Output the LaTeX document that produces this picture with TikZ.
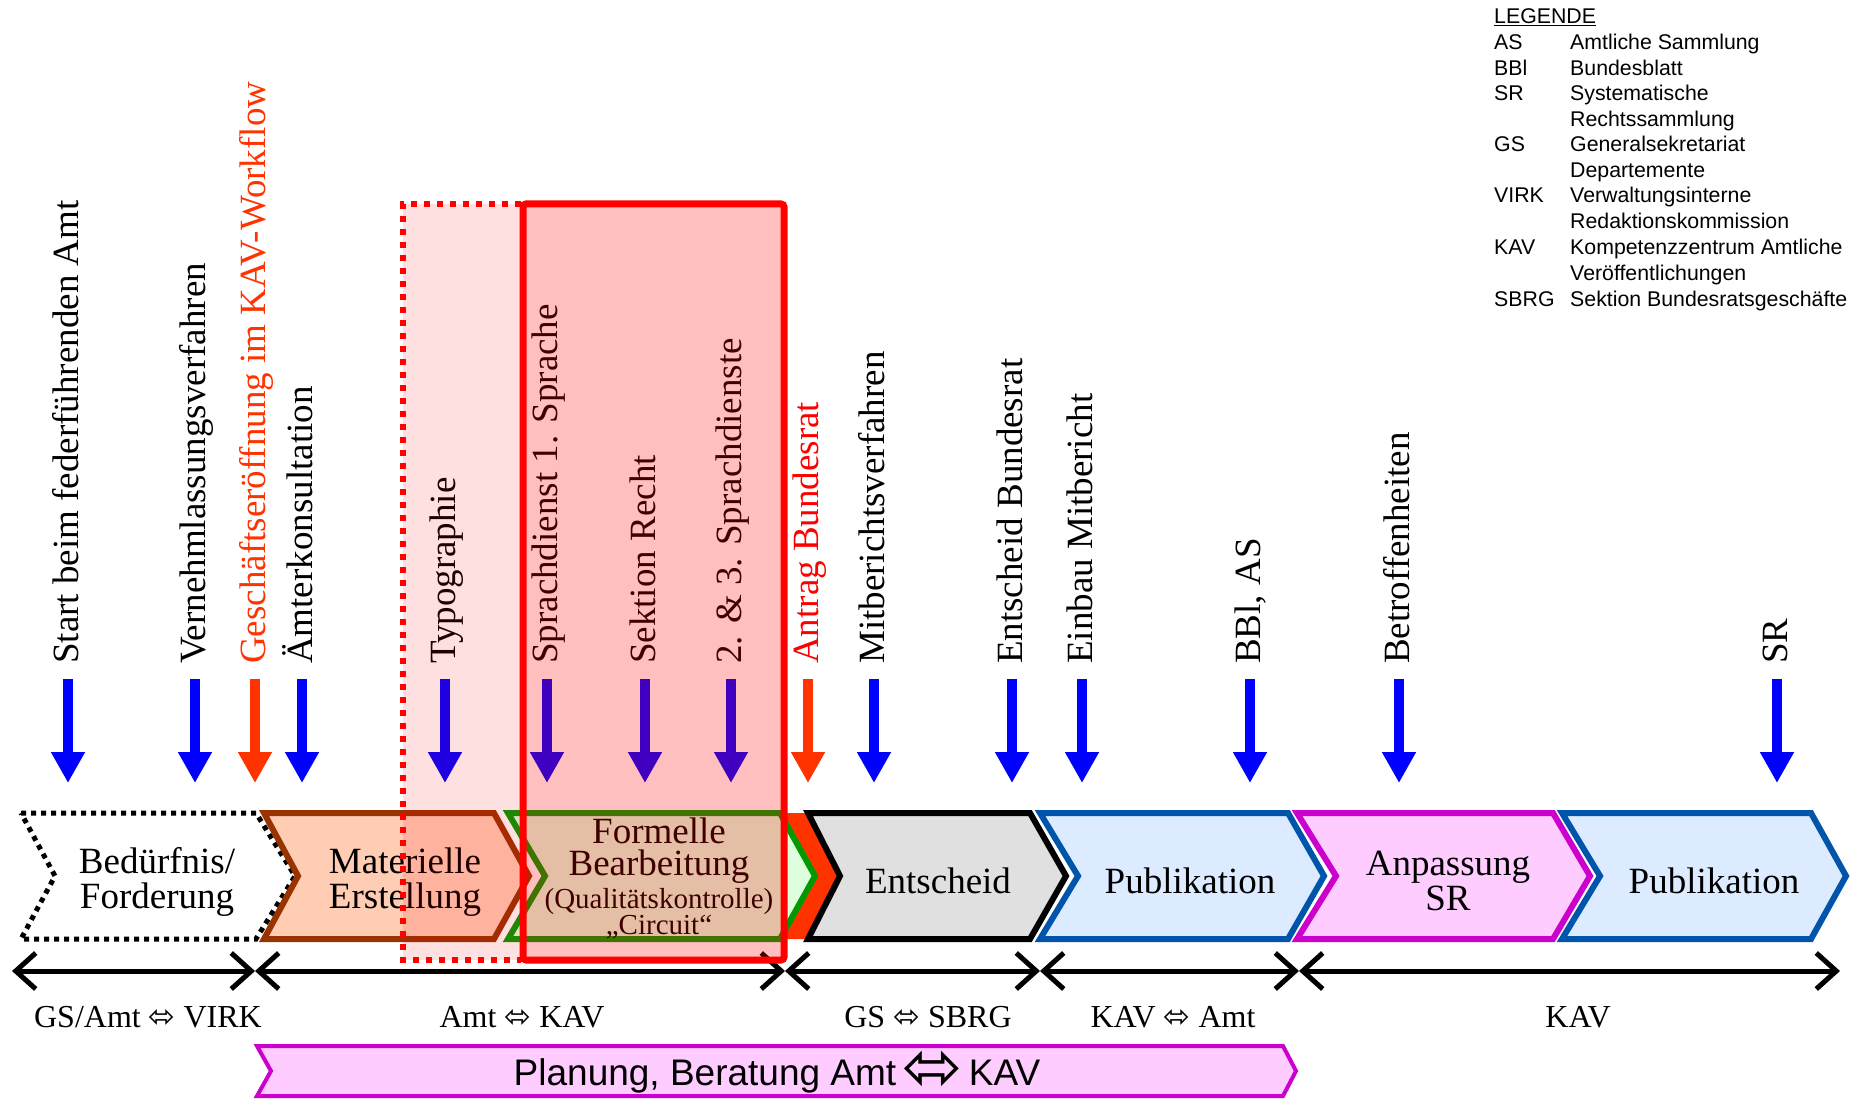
\documentclass[tikz,border=0pt]{standalone}
\usepackage{fontspec}
\setmainfont{Liberation Serif}
\newfontfamily\arialf{Liberation Sans}
\newfontfamily\djv{DejaVu Sans}
\usetikzlibrary{arrows.meta}
\definecolor{cblue}{HTML}{0000FF}
\definecolor{corange}{HTML}{FF3300}
\definecolor{cbrown}{HTML}{993300}
\definecolor{cpeach}{HTML}{FFCCB4}
\definecolor{cgreen}{HTML}{009A00}
\definecolor{clgreen}{HTML}{DDFFDD}
\definecolor{cgray}{HTML}{E0E0E0}
\definecolor{cpubb}{HTML}{0055AA}
\definecolor{cpubf}{HTML}{DCEBFF}
\definecolor{cmag}{HTML}{CC00CC}
\definecolor{cmagf}{HTML}{FFCCFF}
% style, top-left x, notch x, top-right x, tip x
\newcommand\mychev[5]{\path[#1] (#2,813) -- (#4,813) -- (#5,876) -- (#4,939) -- (#2,939) -- (#3,876) -- cycle;}
\begin{document}
\begin{tikzpicture}[x=1pt,y=-1pt,
  lab/.style={rotate=90, anchor=mid west, inner sep=0pt, font=\fontsize{37}{44}\selectfont},
  varr/.style={line width=10pt, -{Triangle[length=31pt,width=32pt]}},
  chev/.style={line width=6pt, line join=miter, miter limit=10},
  ctext/.style={align=center, inner sep=0pt, font=\fontsize{37}{35}\selectfont},
  tl/.style={line width=5pt, arrows={Straight Barb[length=20pt,width=36pt]-Straight Barb[length=20pt,width=36pt]}},
  blab/.style={anchor=base, inner sep=0pt, font=\fontsize{32}{38}\selectfont},
  leg/.style={anchor=base west, inner sep=0pt, font=\arialf\fontsize{21.3}{25}\selectfont}
]
\fill[white] (0,0) rectangle (1852,1099);
\useasboundingbox (0,0) rectangle (1852,1099);

% ---- top labels and arrows
\foreach \x/\txt/\tc/\ac [count=\i] in {
  68/Start beim federführenden Amt/black/cblue,
  195/Vernehmlassungsverfahren/black/cblue,
  255/Geschäftseröffnung im KAV-Workflow/corange/corange,
  302/Ämterkonsultation/black/cblue,
  445/Typographie/black/cblue,
  547/Sprachdienst 1. Sprache/black/cblue,
  645/Sektion Recht/black/cblue,
  731/2. \& 3. Sprachdienste/black/cblue,
  808/Antrag Bundesrat/red/corange,
  874/Mitberichtsverfahren/black/cblue,
  1012/Entscheid Bundesrat/black/cblue,
  1082/Einbau Mitbericht/black/cblue,
  1250/{BBl, AS}/black/cblue,
  1399/Betroffenheiten/black/cblue,
  1777/SR/black/cblue}{
  \node[lab, text=\tc] (L\i) at (\x+8,664) {\txt};
  \draw[varr, draw=\ac, fill=\ac] ([xshift=-8pt,yshift=-15pt]L\i.mid west) -- ++(0,104);
}

% ---- legend
\node[leg] (lg0) at (1494,24) {\underline{LEGENDE}};
\foreach \y/\ab/\de [count=\j] in {
  50/AS/Amtliche Sammlung,
  76/BBl/Bundesblatt,
  101/SR/Systematische,
  127//Rechtssammlung,
  152/GS/Generalsekretariat,
  178//Departemente,
  203/VIRK/Verwaltungsinterne,
  229//Redaktionskommission,
  255/KAV/Kompetenzzentrum Amtliche,
  280//Veröffentlichungen,
  306/SBRG/Sektion Bundesratsgeschäfte}{
  \node[leg] (la\j) at (1494,\y) {\ab};
  \node[leg] (ld\j) at (1570,\y) {\de};
}

% ---- chevrons
\mychev{draw=black, fill=white, line width=5pt, dash pattern=on 5pt off 5pt, line join=miter}{21}{55}{256}{295}
\mychev{draw=cbrown, fill=cpeach, chev}{264}{298}{494}{529}
\fill[corange] (775,813) -- (815,813) -- (850,876) -- (815,939) -- (775,939) -- cycle;
\mychev{draw=cgreen, fill=clgreen, chev}{508}{545}{780}{815}
\mychev{draw=black, fill=cgray, chev}{808}{840}{1030}{1066}
\mychev{draw=cpubb, fill=cpubf, chev}{1040}{1078}{1288}{1324}
\mychev{draw=cmag, fill=cmagf, chev}{1297}{1336}{1553}{1590}
\mychev{draw=cpubb, fill=cpubf, chev}{1562}{1600}{1811}{1846}

\node[ctext] (tB) at (157,882) {Bedürfnis/\\Forderung};
\node[ctext] (tM) at (405,882) {Materielle\\Erstellung};
\node[ctext, font=\fontsize{37}{32}\selectfont] (tF1) at (659,851) {Formelle\\Bearbeitung};
\node[ctext, font=\fontsize{29}{26}\selectfont] (tF2) at (659,914) {(Qualitätskontrolle)\\„Circuit“};
\node[ctext] (tE) at (938,881) {Entscheid};
\node[ctext] (tP1) at (1190,881) {Publikation};
\node[ctext] (tA) at (1448,881) {Anpassung\\SR};
\node[ctext] (tP2) at (1714,881) {Publikation};

% ---- timeline
\coordinate (t0) at (12,971);
\coordinate (t1) at (255,971);
\coordinate (t2) at (785,971);
\coordinate (t3) at (1040,971);
\coordinate (t4) at (1299,971);
\coordinate (t5) at (1840,971);
\draw[tl] (t0) -- (t1);
\draw[tl] (t1) -- (t2);
\draw[tl] (t2) -- (t3);
\draw[tl] (t3) -- (t4);
\draw[tl] (t4) -- (t5);

\node[blab] (b1) at (148,1027) {GS/Amt {\djv ⬄} VIRK};
\node[blab] (b2) at (522,1027) {Amt {\djv ⬄} KAV};
\node[blab] (b3) at (928,1027) {GS {\djv ⬄} SBRG};
\node[blab] (b4) at (1173,1027) {KAV {\djv ⬄} Amt};
\node[blab] (b5) at (1578,1027) {KAV};

% ---- bottom bar
\path[draw=cmag, fill=cmagf, line width=4pt, line join=miter] (257,1046) -- (1283,1046) -- (1296,1071) -- (1283,1096) -- (257,1096) -- (271,1071) -- cycle;
\node[anchor=base, inner sep=0pt, font=\arialf\fontsize{37}{44}\selectfont] (bar) at (777,1085) {Planung, Beratung Amt\,\raisebox{-6pt}{\djv\fontsize{72}{72}\selectfont ⬄}\,KAV};

% ---- overlays
\fill[red, opacity=0.12] (403,204) rectangle (523,960);
\fill[red, opacity=0.25] (523,204) rectangle (784,960);
\draw[red, line width=6pt, dash pattern=on 6pt off 7pt] (521,204) -- (403,204) -- (403,960) -- (521,960);
\draw[red, line width=7pt, rounded corners=3pt] (523,204) rectangle (784,960);
\end{tikzpicture}
\end{document}
